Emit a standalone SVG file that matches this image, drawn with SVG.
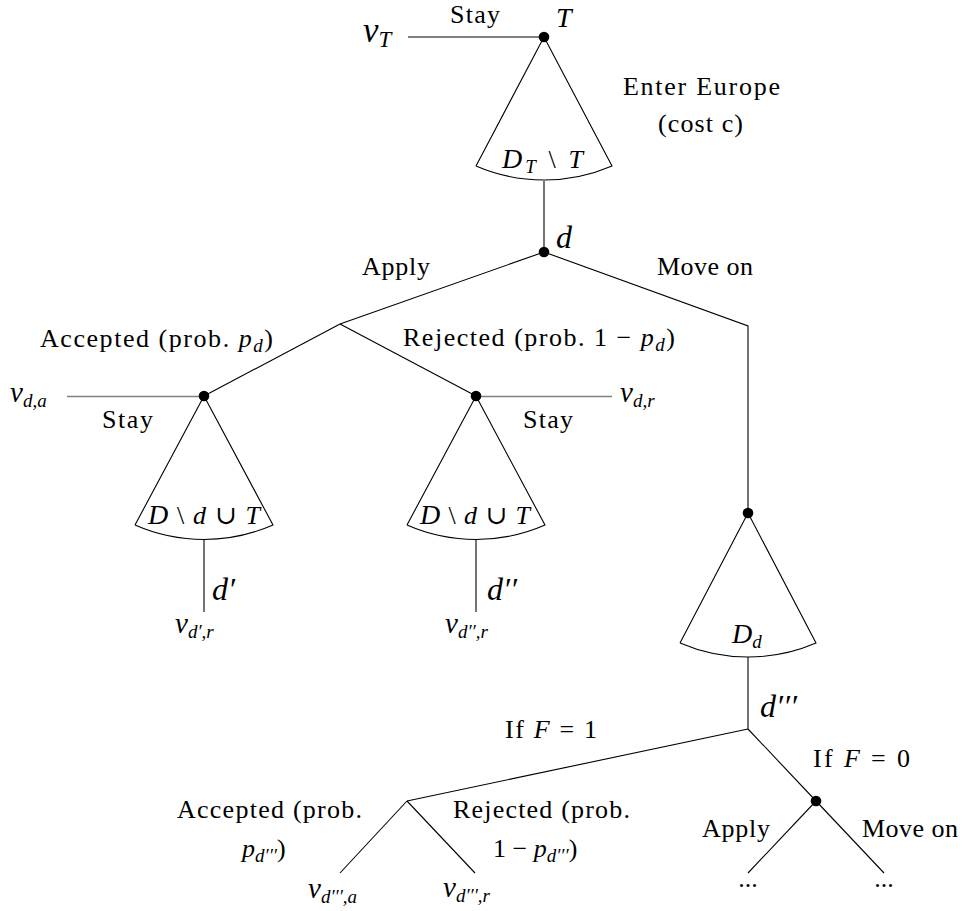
<svg xmlns="http://www.w3.org/2000/svg" width="963" height="911" viewBox="0 0 963 911">
<style>
.ln{stroke:#000;stroke-width:1.1;fill:none}
.gl{stroke:#808080;stroke-width:1.6;fill:none}
.cone{stroke:#000;stroke-width:1.1;fill:none;stroke-linejoin:round}
.dot{fill:#000}
text{font-family:"Liberation Serif","DejaVu Serif",serif;font-size:26px;fill:#000}
.m{font-style:italic}
.s{font-size:19px}
.v{font-style:italic;font-size:29px}
.lb{font-style:italic;font-size:32px}
</style>
<rect width="963" height="911" fill="#fff"/>

<g id="connectors">
  <line class="ln" x1="408" y1="37" x2="544" y2="37"/>
  <line class="ln" x1="544" y1="181" x2="544" y2="252"/>
  <line class="ln" x1="544" y1="252" x2="340" y2="324"/>
  <polyline class="ln" points="544,252 748,326 748,513"/>
  <line class="ln" x1="340" y1="324" x2="204" y2="396"/>
  <line class="ln" x1="340" y1="324" x2="476" y2="396"/>
  <line class="gl" x1="67" y1="396.5" x2="204" y2="396.5"/>
  <line class="gl" x1="476" y1="396.5" x2="612" y2="396.5"/>
  <line class="ln" x1="204" y1="539" x2="204" y2="612"/>
  <line class="ln" x1="476" y1="539" x2="476" y2="612"/>
  <line class="ln" x1="748" y1="657" x2="748" y2="729"/>
  <line class="ln" x1="748" y1="729" x2="407" y2="801"/>
  <line class="ln" x1="748" y1="729" x2="816" y2="801"/>
  <line class="ln" x1="407" y1="801" x2="340" y2="873"/>
  <line class="ln" x1="407" y1="801" x2="475" y2="873"/>
  <line class="ln" x1="816" y1="801" x2="748" y2="873"/>
  <line class="ln" x1="816" y1="801" x2="884" y2="873"/>
</g>

<g id="leaf-vT">
  <text x="363" y="42"><tspan class="m" style="font-size:35px">v</tspan><tspan class="m" style="font-size:23px" dy="5">T</tspan></text>
  <text x="450" y="23" textLength="50">Stay</text>
</g>

<g id="node-T">
  <path class="cone" d="M476,166 L544,37 L612,166 A172,172 0 0 1 476,166"/>
  <circle class="dot" cx="544" cy="37" r="5.3"/>
  <text class="m" style="font-size:28px" x="556" y="27">T</text>
  <text x="502" y="168" textLength="81"><tspan class="m" style="font-size:28px">D</tspan><tspan class="m s" dy="5">T</tspan><tspan dy="-5"> \ </tspan><tspan class="m">T</tspan></text>
  <text x="623" y="95" textLength="157">Enter Europe</text>
  <text x="658" y="132" textLength="85">(cost c)</text>
</g>

<g id="node-d">
  <circle class="dot" cx="544" cy="252" r="5.3"/>
  <text class="lb" x="556" y="248">d</text>
  <text x="362" y="275" textLength="68">Apply</text>
  <text x="657" y="275" textLength="96">Move on</text>
  <text x="40" y="347" textLength="233">Accepted (prob. <tspan class="m">p</tspan><tspan class="m s" dy="5">d</tspan><tspan dy="-5">)</tspan></text>
  <text x="403" y="346" textLength="272">Rejected (prob. 1 − <tspan class="m">p</tspan><tspan class="m s" dy="5">d</tspan><tspan dy="-5">)</tspan></text>
</g>

<g id="node-accepted">
  <path class="cone" d="M135,525 L204,396 L273,525 A172,172 0 0 1 135,525"/>
  <circle class="dot" cx="204" cy="396" r="5.3"/>
  <text x="10" y="402"><tspan class="v">v</tspan><tspan class="m s" dy="5">d,a</tspan></text>
  <text x="102" y="428" textLength="51">Stay</text>
  <text x="148" y="524" textLength="112"><tspan class="m" style="font-size:28px">D</tspan> \ <tspan class="m">d</tspan> ∪ <tspan class="m">T</tspan></text>
  <text class="lb" x="212" y="600">d′</text>
  <text x="175" y="633"><tspan class="v">v</tspan><tspan class="m s" dy="5">d′,r</tspan></text>
</g>

<g id="node-rejected">
  <path class="cone" d="M407,525 L476,396 L545,525 A172,172 0 0 1 407,525"/>
  <circle class="dot" cx="476" cy="396" r="5.3"/>
  <text x="620" y="402"><tspan class="v">v</tspan><tspan class="m s" dy="5">d,r</tspan></text>
  <text x="523" y="428" textLength="50">Stay</text>
  <text x="420" y="524" textLength="110"><tspan class="m" style="font-size:28px">D</tspan> \ <tspan class="m">d</tspan> ∪ <tspan class="m">T</tspan></text>
  <text class="lb" x="487" y="600">d′′</text>
  <text x="445" y="633"><tspan class="v">v</tspan><tspan class="m s" dy="5">d′′,r</tspan></text>
</g>

<g id="node-moveon">
  <path class="cone" d="M680,643 L748,513 L816,643 A172,172 0 0 1 680,643"/>
  <circle class="dot" cx="748" cy="513" r="5.3"/>
  <text x="732" y="643"><tspan class="m" style="font-size:28px">D</tspan><tspan class="m s" dy="5">d</tspan></text>
  <text class="lb" x="760" y="717">d′′′</text>
</g>

<g id="node-F1">
  <text x="505" y="738" textLength="92">If <tspan class="m">F</tspan> = 1</text>
  <text x="177" y="818" textLength="185">Accepted (prob.</text>
  <text x="242" y="857"><tspan class="m">p</tspan><tspan class="m s" dy="5">d′′′</tspan><tspan dy="-5">)</tspan></text>
  <text x="453" y="818" textLength="177">Rejected (prob.</text>
  <text x="493" y="857">1 − <tspan class="m">p</tspan><tspan class="m s" dy="5">d′′′</tspan><tspan dy="-5">)</tspan></text>
  <text x="308" y="898"><tspan class="v">v</tspan><tspan class="m s" dy="5">d′′′,a</tspan></text>
  <text x="443" y="897"><tspan class="v">v</tspan><tspan class="m s" dy="5">d′′′,r</tspan></text>
</g>

<g id="node-F0">
  <circle class="dot" cx="816" cy="801" r="5.3"/>
  <text x="813" y="767" textLength="97">If <tspan class="m">F</tspan> = 0</text>
  <text x="702" y="837" textLength="68">Apply</text>
  <text x="862" y="837" textLength="96">Move on</text>
  <text x="748" y="887" text-anchor="middle">...</text>
  <text x="884" y="887" text-anchor="middle">...</text>
</g>
</svg>
